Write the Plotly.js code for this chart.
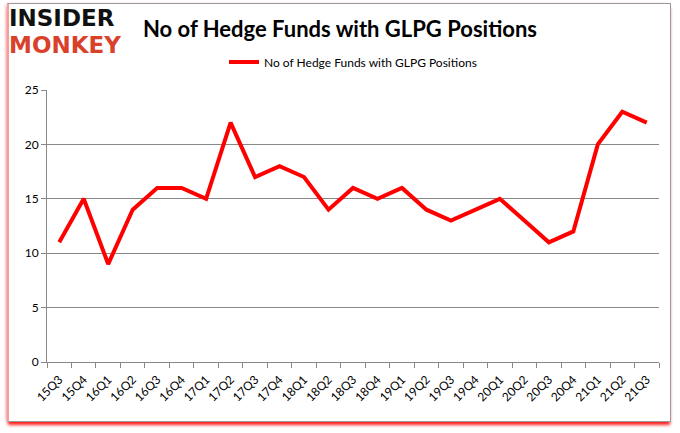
<!DOCTYPE html>
<html>
<head>
<meta charset="utf-8">
<script src="https://cdn.plot.ly/plotly-3.0.1.min.js"></script>
<style>
html,body{margin:0;padding:0;background:#fff;}
#wrap{position:relative;width:680px;height:433px;overflow:hidden;}
#chart{position:absolute;left:0;top:0;width:680px;height:433px;}
#frame{position:absolute;left:7px;top:3px;width:661px;height:417px;border:1px solid #9a9a9a;border-left:2px solid #f0a0a0;box-shadow:0 4px 3px -1px #ff2020, -2px 0 3px -1px #f6b0b0;pointer-events:none;}
</style>
</head>
<body>
<div id="wrap">
<div id="chart"></div>
<div id="frame"></div>
</div>
<script>
const quarters = ["15Q3","15Q4","16Q1","16Q2","16Q3","16Q4","17Q1","17Q2","17Q3","17Q4","18Q1","18Q2","18Q3","18Q4","19Q1","19Q2","19Q3","19Q4","20Q1","20Q2","20Q3","20Q4","21Q1","21Q2","21Q3"];
const hedgeFunds = [11,15,9,14,16,16,15,22,17,18,17,14,16,15,16,14,13,14,15,13,11,12,20,23,22];
const yTicks = [0,5,10,15,20,25];
const seriesName = "No of Hedge Funds with GLPG Positions";
const chartTitle = "No of Hedge Funds with GLPG Positions";

const trace = {
  x: quarters, y: hedgeFunds, type: "scatter", mode: "lines", name: seriesName,
  line: {color: "#ff0000", width: 4}
};
const layout = {
  width: 680, height: 433,
  margin: {l: 47, r: 21, t: 90, b: 71},
  paper_bgcolor: "#ffffff", plot_bgcolor: "#ffffff",
  font: {family: "Lato, 'Open Sans', sans-serif", color: "#000"},
  title: {text: chartTitle, x: 0.5, xanchor: "center", y: 0.932, yanchor: "middle", font: {family: "Lato, 'Open Sans', sans-serif", size: 22, color: "#000", weight: "bold"}},
  showlegend: true,
  legend: {orientation: "h", x: 0.5, xanchor: "center", y: 1.103, yanchor: "middle", font: {size: 12, family: "Lato, sans-serif"}, bgcolor: "rgba(0,0,0,0)"},
  xaxis: {
    type: "category", range: [-0.5, quarters.length - 0.5], tickson: "boundaries",
    ticks: "outside", ticklen: 5, tickcolor: "#888", tickangle: -45, ticklabelstandoff: 5,
    showgrid: false, showline: true, linecolor: "#888", linewidth: 1,
    tickfont: {size: 12, family: "Lato, sans-serif"}, fixedrange: true
  },
  yaxis: {
    range: [0, 25], tickvals: yTicks, ticks: "outside", ticklen: 5, tickcolor: "#888",
    showgrid: true, gridcolor: "#888", gridwidth: 1, showline: true, linecolor: "#888",
    zeroline: false, tickfont: {size: 12, family: "Lato, sans-serif"}, fixedrange: true
  },
  annotations: [
    {xref: "paper", yref: "paper", x: -0.0605, y: 1.263, xanchor: "left", yanchor: "middle", showarrow: false, xshift: -3,
     text: "<b>INSIDER</b>", font: {family: "'DejaVu Sans', sans-serif", size: 23, color: "#111"}},
    {xref: "paper", yref: "paper", x: -0.0605, y: 1.167, xanchor: "left", yanchor: "middle", showarrow: false, xshift: -3,
     text: "<b>MONKEY</b>", font: {family: "'DejaVu Sans', sans-serif", size: 23, color: "#d9412b"}}
  ]
};
Plotly.newPlot("chart", [trace], layout, {displayModeBar: false, staticPlot: true});
</script>
</body>
</html>
